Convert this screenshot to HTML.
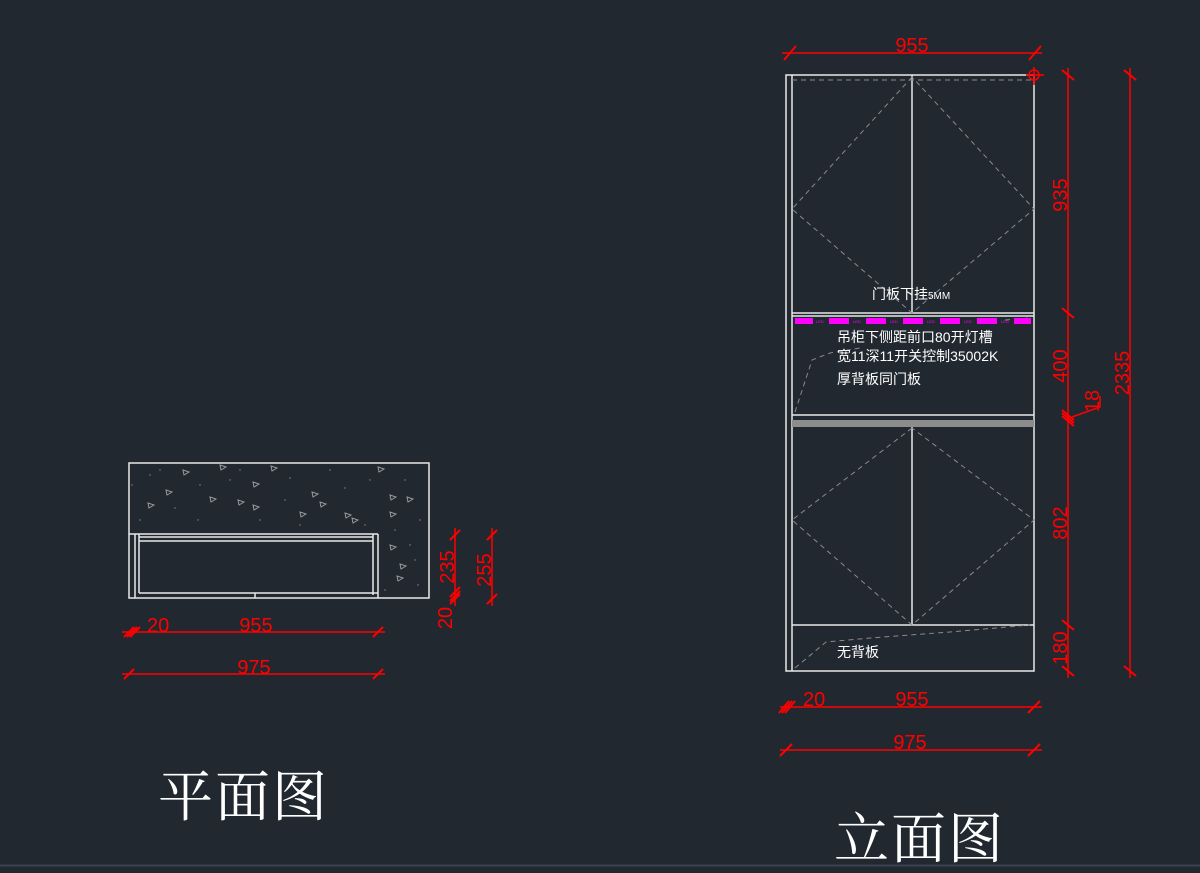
<!DOCTYPE html>
<html><head><meta charset="utf-8"><style>
html,body{margin:0;padding:0;background:#212830;}
svg{display:block}
text{font-family:"Liberation Sans","Noto Sans CJK SC",sans-serif;}
</style></head><body>
<svg width="1200" height="873" viewBox="0 0 1200 873" xmlns="http://www.w3.org/2000/svg">
<rect width="1200" height="873" fill="#212830"/>
<line x1="0" y1="865.5" x2="1200" y2="865.5" stroke="#3a4250" stroke-width="2"/>

<!-- ===== PLAN ===== -->
<g stroke="#e8e8e8" stroke-width="1.5" fill="none">
<rect x="129" y="463" width="300" height="135"/>
<line x1="129" y1="534" x2="378" y2="534"/>
<line x1="378" y1="534" x2="378" y2="598"/>
<line x1="135" y1="534" x2="135" y2="598"/>
<line x1="139" y1="534" x2="139" y2="593"/>
<line x1="139" y1="537" x2="373" y2="537"/>
<line x1="139" y1="541" x2="373" y2="541"/>
<line x1="373" y1="534" x2="373" y2="595"/>
<line x1="139" y1="593" x2="378" y2="593"/>
<line x1="255" y1="593" x2="255" y2="598"/>
</g>
<g fill="none" stroke="#9a9a9a" stroke-width="1">
<path d="M183 470 l6 2 l-5 3z"/><path d="M253 482 l6 2 l-5 3z"/><path d="M210 497 l6 2 l-5 3z"/>
<path d="M312 492 l6 2 l-5 3z"/><path d="M320 502 l6 2 l-5 3z"/><path d="M271 466 l6 2 l-5 3z"/>
<path d="M166 490 l6 2 l-5 3z"/><path d="M148 503 l6 2 l-5 3z"/><path d="M238 500 l6 2 l-5 3z"/>
<path d="M300 512 l6 2 l-5 3z"/><path d="M345 513 l6 2 l-5 3z"/><path d="M352 518 l6 2 l-5 3z"/>
<path d="M378 467 l6 2 l-5 3z"/><path d="M390 495 l6 2 l-5 3z"/><path d="M390 512 l6 2 l-5 3z"/>
<path d="M407 497 l6 2 l-5 3z"/><path d="M390 545 l6 2 l-5 3z"/><path d="M400 564 l6 2 l-5 3z"/>
<path d="M397 576 l6 2 l-5 3z"/><path d="M253 505 l6 2 l-5 3z"/><path d="M220 465 l6 2 l-5 3z"/>
</g>
<g fill="#8a8a8a">
<circle cx="150" cy="475" r=".7"/><circle cx="175" cy="508" r=".7"/><circle cx="198" cy="520" r=".7"/>
<circle cx="230" cy="480" r=".7"/><circle cx="260" cy="520" r=".7"/><circle cx="290" cy="478" r=".7"/>
<circle cx="330" cy="470" r=".7"/><circle cx="345" cy="488" r=".7"/><circle cx="370" cy="480" r=".7"/>
<circle cx="405" cy="480" r=".7"/><circle cx="420" cy="520" r=".7"/><circle cx="410" cy="545" r=".7"/>
<circle cx="418" cy="585" r=".7"/><circle cx="385" cy="590" r=".7"/><circle cx="140" cy="520" r=".7"/>
<circle cx="285" cy="500" r=".7"/><circle cx="200" cy="485" r=".7"/><circle cx="365" cy="525" r=".7"/>
<circle cx="160" cy="470" r=".7"/><circle cx="240" cy="470" r=".7"/><circle cx="300" cy="525" r=".7"/>
<circle cx="395" cy="530" r=".7"/><circle cx="415" cy="560" r=".7"/><circle cx="132" cy="485" r=".7"/>
</g>

<g stroke="#ff0000" stroke-width="1.5" fill="none">
<line x1="122" y1="632" x2="385" y2="632"/>
<line x1="455" y1="528" x2="455" y2="606"/>
<line x1="492" y1="528" x2="492" y2="606"/>
<line x1="122" y1="674" x2="385" y2="674"/>
</g>
<g stroke="#ff0000" stroke-width="2" fill="none">
<line x1="124" y1="637" x2="134" y2="627"/><line x1="127" y1="637" x2="137" y2="627"/><line x1="130" y1="637" x2="140" y2="627"/>
<line x1="373" y1="637" x2="383" y2="627"/>
<line x1="124" y1="679" x2="134" y2="669"/><line x1="373" y1="679" x2="383" y2="669"/>
<line x1="450" y1="540" x2="460" y2="530"/><line x1="450" y1="597" x2="460" y2="587"/><line x1="450" y1="601" x2="460" y2="591"/><line x1="450" y1="604" x2="460" y2="594"/>
<line x1="487" y1="540" x2="497" y2="530"/><line x1="487" y1="604" x2="497" y2="594"/>
</g>
<g fill="#ff0000" font-size="20">
<text x="147" y="632">20</text>
<text x="256" y="632" text-anchor="middle">955</text>
<text x="254" y="674" text-anchor="middle">975</text>
<text transform="translate(454,567) rotate(-90)" text-anchor="middle">235</text>
<text transform="translate(491,570) rotate(-90)" text-anchor="middle">255</text>
<text transform="translate(452,618) rotate(-90)" text-anchor="middle">20</text>
</g>
<text x="158" y="816" font-size="55" fill="#ffffff" style="font-family:'Noto Serif CJK SC',serif" letter-spacing="2">平面图</text>

<!-- ===== ELEVATION ===== -->
<g stroke="#e8e8e8" stroke-width="1.5" fill="none">
<rect x="786" y="75" width="248" height="596"/>
<line x1="792" y1="75" x2="792" y2="671"/>
<line x1="912" y1="75" x2="912" y2="313"/>
<line x1="792" y1="313" x2="1034" y2="313"/>
<line x1="792" y1="316" x2="1034" y2="316"/>
<line x1="792" y1="415" x2="1034" y2="415"/>
<line x1="912" y1="427" x2="912" y2="625"/>
<line x1="792" y1="625" x2="1034" y2="625"/>
</g>
<rect x="792" y="420" width="242" height="7" fill="#8c8c8c"/>
<g stroke="#8a8a8a" stroke-width="1" fill="none" stroke-dasharray="5,4">
<line x1="792" y1="80" x2="1034" y2="80"/>
<polyline points="912,77 792,209 912,313 1034,209 912,77"/>
<polyline points="912,428 792,520 912,625 1034,520 912,428"/>
<polyline points="795,412 812,360 830,353 860,348"/>
<polyline points="795,668 826,642 870,638 950,632 1030,625"/>
<line x1="1005" y1="320" x2="1030" y2="318"/>
</g>
<g fill="#ff00ff">
<rect x="795" y="318" width="18" height="6"/><rect x="829" y="318" width="20" height="6"/>
<rect x="866" y="318" width="20" height="6"/><rect x="903" y="318" width="20" height="6"/>
<rect x="940" y="318" width="20" height="6"/><rect x="977" y="318" width="20" height="6"/>
<rect x="1014" y="318" width="17" height="6"/>
</g>
<g fill="#ff00ff" font-size="4"><text x="816" y="323">LED</text><text x="853" y="323">LED</text><text x="890" y="323">LED</text><text x="927" y="323">LED</text><text x="964" y="323">LED</text><text x="1001" y="323">LED</text></g>
<g fill="#ffffff" font-size="14">
<text x="872" y="299">门板下挂<tspan font-size="10">5MM</tspan></text>
<text x="837" y="342">吊柜下侧距前口80开灯槽</text>
<text x="837" y="361">宽11深11开关控制3500<tspan>2K</tspan></text>
<text x="837" y="384">厚背板同门板</text>
<text x="837" y="657">无背板</text>
</g>

<g stroke="#ff0000" stroke-width="1.5" fill="none">
<line x1="782" y1="53" x2="1042" y2="53"/>
<circle cx="1034" cy="75" r="5"/><line x1="1026" y1="75" x2="1044" y2="75"/><line x1="1034" y1="67" x2="1034" y2="85"/>
<line x1="1068" y1="68" x2="1068" y2="678"/>
<line x1="1130" y1="68" x2="1130" y2="678"/>
<polyline points="1072,417 1100,407 1100,396"/>
<line x1="780" y1="707" x2="1042" y2="707"/>
<line x1="780" y1="750" x2="1042" y2="750"/>
</g>
<g stroke="#ff0000" stroke-width="2" fill="none">
<line x1="784" y1="60" x2="796" y2="46"/><line x1="1029" y1="60" x2="1041" y2="46"/>
<line x1="1062" y1="70" x2="1074" y2="80"/><line x1="1062" y1="308" x2="1074" y2="318"/>
<line x1="1062" y1="410" x2="1074" y2="420"/><line x1="1062" y1="413" x2="1074" y2="423"/><line x1="1062" y1="416" x2="1074" y2="426"/>
<line x1="1062" y1="620" x2="1074" y2="630"/><line x1="1062" y1="666" x2="1074" y2="676"/>
<line x1="1124" y1="70" x2="1136" y2="80"/><line x1="1124" y1="666" x2="1136" y2="676"/>
<line x1="779" y1="713" x2="789" y2="701"/><line x1="782" y1="713" x2="792" y2="701"/><line x1="785" y1="713" x2="795" y2="701"/>
<line x1="1028" y1="713" x2="1040" y2="701"/>
<line x1="780" y1="756" x2="792" y2="744"/><line x1="1028" y1="756" x2="1040" y2="744"/>
</g>
<g fill="#ff0000" font-size="20">
<text x="912" y="52" text-anchor="middle">955</text>
<text x="803" y="706">20</text>
<text x="912" y="706" text-anchor="middle">955</text>
<text x="910" y="749" text-anchor="middle">975</text>
<text transform="translate(1067,195) rotate(-90)" text-anchor="middle">935</text>
<text transform="translate(1067,366) rotate(-90)" text-anchor="middle">400</text>
<text transform="translate(1067,523) rotate(-90)" text-anchor="middle">802</text>
<text transform="translate(1067,648) rotate(-90)" text-anchor="middle">180</text>
<text transform="translate(1129,373) rotate(-90)" text-anchor="middle">2335</text>
<text transform="translate(1099,401) rotate(-90)" text-anchor="middle">18</text>
</g>
<text x="834" y="858" font-size="55" fill="#ffffff" style="font-family:'Noto Serif CJK SC',serif" letter-spacing="2">立面图</text>
</svg>
</body></html>
